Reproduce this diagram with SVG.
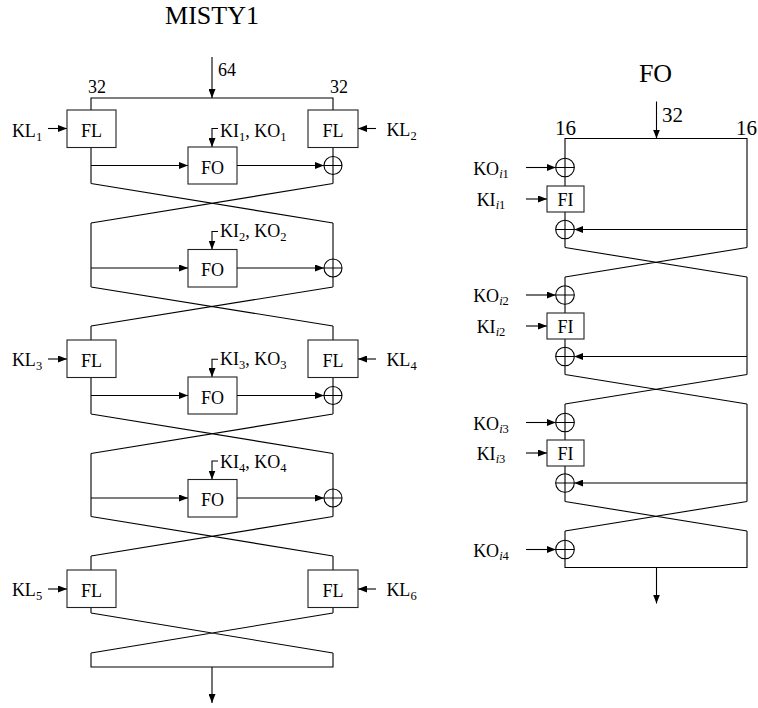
<svg xmlns="http://www.w3.org/2000/svg" width="758" height="708" viewBox="0 0 758 708">
<style>
.ln{stroke:#000;stroke-width:1.1;fill:none}
.ar{stroke:#000;stroke-width:1.1;fill:none;marker-end:url(#ah)}
.bx{stroke:#222;stroke-width:1.1;fill:#fff}
.xc{stroke:#000;stroke-width:1.1;fill:#fff}
text{font-family:"Liberation Serif","Times New Roman",serif;fill:#000}
.lb{font-size:18px}
.sb{font-size:12.5px}
.tt{font-size:26px}
.nm{font-size:18px}
.nb{font-size:21px}
.it{font-style:italic}
</style>
<defs>
<marker id="ah" markerUnits="userSpaceOnUse" markerWidth="9" markerHeight="7" refX="9" refY="3.5" orient="auto"><path d="M0,0L9,3.5L0,7z" fill="#000"/></marker>
<g id="xor"><circle r="9" class="xc"/><path class="ln" d="M-9,0H9M0,-9V9"/></g>
<g id="xor2"><circle r="9.3" class="xc"/><path class="ln" d="M-9.3,0H9.3M0,-9.3V9.3"/></g>
</defs>

<g id="connectors">
<!-- MISTY1 -->
<path class="ar" d="M212,57V98"/>
<path class="ln" d="M91,110V98H333V110"/>
<path class="ln" d="M91,147V183.5M333,147V183.5M91,183.5L333,223M333,183.5L91,223"/>
<path class="ar" d="M91,165.5H188"/>
<path class="ar" d="M237,165.5H324"/>
<path class="ar" d="M218,128.5H212V147"/>
<path class="ar" d="M48,128.5H67"/>
<path class="ar" d="M376,128.5H358"/>
<path class="ln" d="M91,223V287M333,223V287M91,287L333,326M333,287L91,326"/>
<path class="ar" d="M91,268H188"/>
<path class="ar" d="M237,268H324"/>
<path class="ar" d="M218,231.5H212V249.5"/>
<path class="ln" d="M91,326V340M333,326V340M91,377.5V414M333,377.5V414M91,414L333,453.5M333,414L91,453.5"/>
<path class="ar" d="M91,395.5H188"/>
<path class="ar" d="M237,395.5H324"/>
<path class="ar" d="M218,359.3H212V377"/>
<path class="ar" d="M48,359H67"/>
<path class="ar" d="M376,359H358"/>
<path class="ln" d="M91,453.5V516.5M333,453.5V516.5M91,516.5L333,556M333,516.5L91,556"/>
<path class="ar" d="M91,498H188"/>
<path class="ar" d="M237,498H324"/>
<path class="ar" d="M218,461H212V479.5"/>
<path class="ln" d="M91,556V570M333,556V570M91,607.5V613M333,607.5V613M91,613L333,653M333,613L91,653M91,653V667H333V653"/>
<path class="ar" d="M48,589H67"/>
<path class="ar" d="M376,589H358"/>
<path class="ar" d="M212,667V703"/>
<!-- FO -->
<path class="ar" d="M656.5,101.5V138.5"/>
<path class="ln" d="M565,247.5V138.5H747V247.5M565,247.5L747,277M747,247.5L565,277"/>
<path class="ln" d="M565,277V374.5M747,277V374.5M565,374.5L747,404M747,374.5L565,404"/>
<path class="ln" d="M565,404V501.5M747,404V501.5M565,501.5L747,531M747,501.5L565,531"/>
<path class="ln" d="M565,531V567.5H747V531"/>
<path class="ar" d="M656.5,567.5V603.5"/>
<path class="ar" d="M526,167.5H555.7"/>
<path class="ar" d="M526,199H547"/>
<path class="ar" d="M747,229.5H574.3"/>
<path class="ar" d="M526,295H555.7"/>
<path class="ar" d="M526,326H547"/>
<path class="ar" d="M747,356.5H574.3"/>
<path class="ar" d="M526,422.5H555.7"/>
<path class="ar" d="M526,453H547"/>
<path class="ar" d="M747,483H574.3"/>
<path class="ar" d="M526,549.5H555.7"/>
</g>

<g id="labels">
<text class="tt" x="212" y="24" text-anchor="middle">MISTY1</text>
<text class="nm" x="218" y="76">64</text>
<text class="lb" x="97" y="93" text-anchor="middle">32</text>
<text class="lb" x="339" y="93" text-anchor="middle">32</text>
<text class="tt" x="655.5" y="82" text-anchor="middle">FO</text>
<text class="nb" x="662" y="122">32</text>
<text class="nb" x="565.5" y="135" text-anchor="middle">16</text>
<text class="nb" x="746.5" y="135" text-anchor="middle">16</text>
</g>

<g id="FL1"><rect class="bx" x="67" y="110" width="49" height="37.5"/><text class="lb" x="91.5" y="136.5" text-anchor="middle">FL</text></g>
<g id="FL2"><rect class="bx" x="308" y="110" width="50" height="37.5"/><text class="lb" x="333" y="136.5" text-anchor="middle">FL</text></g>
<g id="KL1"><text class="lb" x="27" y="136.5" text-anchor="middle">KL<tspan class="sb" dy="4">1</tspan></text></g>
<g id="KL2"><text class="lb" x="401.5" y="136" text-anchor="middle">KL<tspan class="sb" dy="4">2</tspan></text></g>
<g id="FO1"><rect class="bx" x="188" y="147" width="49" height="37"/><text class="lb" x="212.5" y="173.5" text-anchor="middle">FO</text></g>
<g id="KIKO1"><text class="lb" x="220" y="136.5">KI<tspan class="sb" dy="4">1</tspan><tspan dy="-4">, KO</tspan><tspan class="sb" dy="4">1</tspan></text></g>
<g id="X1"><use href="#xor" x="333" y="165.5"/></g>

<g id="FO2"><rect class="bx" x="188" y="249.5" width="49" height="37.5"/><text class="lb" x="212.5" y="276" text-anchor="middle">FO</text></g>
<g id="KIKO2"><text class="lb" x="220" y="237">KI<tspan class="sb" dy="4">2</tspan><tspan dy="-4">, KO</tspan><tspan class="sb" dy="4">2</tspan></text></g>
<g id="X2"><use href="#xor" x="333" y="268"/></g>

<g id="FL3"><rect class="bx" x="67" y="340" width="49" height="37.5"/><text class="lb" x="91.5" y="366.5" text-anchor="middle">FL</text></g>
<g id="FL4"><rect class="bx" x="308" y="340" width="50" height="37.5"/><text class="lb" x="333" y="366.5" text-anchor="middle">FL</text></g>
<g id="KL3"><text class="lb" x="27" y="365.5" text-anchor="middle">KL<tspan class="sb" dy="4">3</tspan></text></g>
<g id="KL4"><text class="lb" x="401.5" y="365.5" text-anchor="middle">KL<tspan class="sb" dy="4">4</tspan></text></g>
<g id="FO3"><rect class="bx" x="188" y="377" width="49" height="37"/><text class="lb" x="212.5" y="403.5" text-anchor="middle">FO</text></g>
<g id="KIKO3"><text class="lb" x="220" y="365">KI<tspan class="sb" dy="4">3</tspan><tspan dy="-4">, KO</tspan><tspan class="sb" dy="4">3</tspan></text></g>
<g id="X3"><use href="#xor" x="333" y="395.5"/></g>

<g id="FO4"><rect class="bx" x="188" y="479.5" width="49" height="37.5"/><text class="lb" x="212.5" y="506" text-anchor="middle">FO</text></g>
<g id="KIKO4"><text class="lb" x="220" y="467.5">KI<tspan class="sb" dy="4">4</tspan><tspan dy="-4">, KO</tspan><tspan class="sb" dy="4">4</tspan></text></g>
<g id="X4"><use href="#xor" x="333" y="498"/></g>

<g id="FL5"><rect class="bx" x="67" y="570" width="49" height="37.5"/><text class="lb" x="91.5" y="596.5" text-anchor="middle">FL</text></g>
<g id="FL6"><rect class="bx" x="308" y="570" width="50" height="37.5"/><text class="lb" x="333" y="596.5" text-anchor="middle">FL</text></g>
<g id="KL5"><text class="lb" x="27" y="595.5" text-anchor="middle">KL<tspan class="sb" dy="4">5</tspan></text></g>
<g id="KL6"><text class="lb" x="401.5" y="595.5" text-anchor="middle">KL<tspan class="sb" dy="4">6</tspan></text></g>

<!-- FO diagram -->
<g id="KOi1"><text class="lb" x="491" y="175" text-anchor="middle">KO<tspan class="sb" dy="3"><tspan class="it">i</tspan>1</tspan></text><use href="#xor2" x="565" y="167.5"/></g>
<g id="FIi1"><rect class="bx" x="547" y="186" width="37" height="26"/><text class="lb" x="565.5" y="205.5" text-anchor="middle">FI</text><text class="lb" x="491" y="205.5" text-anchor="middle">KI<tspan class="sb" dy="3"><tspan class="it">i</tspan>1</tspan></text></g>
<g id="Xf1"><use href="#xor2" x="565" y="229.5"/></g>

<g id="KOi2"><text class="lb" x="491" y="302" text-anchor="middle">KO<tspan class="sb" dy="3"><tspan class="it">i</tspan>2</tspan></text><use href="#xor2" x="565" y="295"/></g>
<g id="FIi2"><rect class="bx" x="547" y="313" width="37" height="26"/><text class="lb" x="565.5" y="332.5" text-anchor="middle">FI</text><text class="lb" x="491" y="332.5" text-anchor="middle">KI<tspan class="sb" dy="3"><tspan class="it">i</tspan>2</tspan></text></g>
<g id="Xf2"><use href="#xor2" x="565" y="356.5"/></g>

<g id="KOi3"><text class="lb" x="491" y="430" text-anchor="middle">KO<tspan class="sb" dy="3"><tspan class="it">i</tspan>3</tspan></text><use href="#xor2" x="565" y="422.5"/></g>
<g id="FIi3"><rect class="bx" x="547" y="440" width="37" height="26"/><text class="lb" x="565.5" y="459.5" text-anchor="middle">FI</text><text class="lb" x="491" y="459.5" text-anchor="middle">KI<tspan class="sb" dy="3"><tspan class="it">i</tspan>3</tspan></text></g>
<g id="Xf3"><use href="#xor2" x="565" y="483"/></g>

<g id="KOi4"><text class="lb" x="491" y="556.5" text-anchor="middle">KO<tspan class="sb" dy="3"><tspan class="it">i</tspan>4</tspan></text><use href="#xor2" x="565" y="549.5"/></g>
</svg>
